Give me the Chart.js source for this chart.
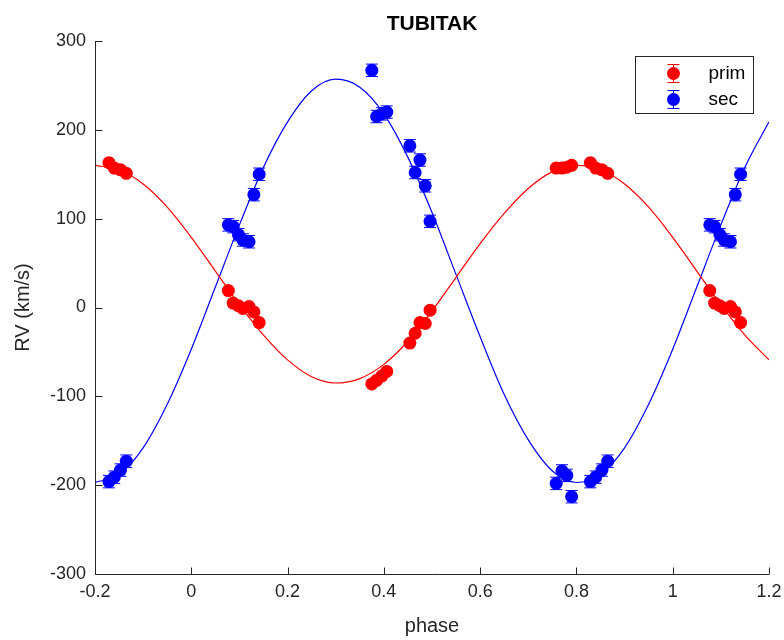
<!DOCTYPE html>
<html lang="en">
<head>
<meta charset="UTF-8">
<title>TUBITAK</title>
<script src="https://cdn.jsdelivr.net/npm/chart.js@4.4.0/dist/chart.umd.min.js"></script>
<style>
    body { margin: 0; background: #fff; }
    #wrap { width: 784px; height: 640px; }
</style>
</head>
<body>
<div id="wrap"><canvas id="rv" width="784" height="640"></canvas></div>
<script>
// measured points; the copies outside 0..1 are plotted as in the original
var obsPhase = [-0.171, -0.160, -0.147, -0.135,
    0.077, 0.087, 0.098, 0.107, 0.120, 0.130, 0.141,
    0.375, 0.385, 0.396, 0.406,
    0.454, 0.465, 0.475, 0.486, 0.496,
    0.758, 0.770, 0.780, 0.790,
    0.829, 0.840, 0.853, 0.865,
    1.077, 1.087, 1.098, 1.107, 1.120, 1.130, 1.141];
var primRV = [163, 157, 155, 151,
    19, 5, 2, -1, 1, -5, -17,
    -86, -82, -77, -72,
    -40, -29, -17, -18, -3,
    157, 157, 158, 160,
    163, 157, 155, 151,
    19, 5, 2, -1, 1, -5, -17];
var secRV = [-196, -191, -183, -173,
    93, 91, 82, 76, 74, 127, 150,
    267, 215, 218, 220,
    182, 152, 166, 137, 97,
    -198, -184, -189, -213,
    -196, -191, -183, -173,
    93, 91, 82, 76, 74, 127, 150];
var primErr = 2;
var secErr = 7;

// fitted orbit curves, every 0.05 in phase
var fitPhase = [-0.2, -0.15, -0.1, -0.05, 0, 0.05, 0.1, 0.15, 0.2, 0.25, 0.3, 0.35, 0.4, 0.45, 0.5,
    0.55, 0.6, 0.65, 0.7, 0.75, 0.8, 0.85, 0.9, 0.95, 1, 1.05, 1.1, 1.15, 1.2];
var primFit = [160, 155, 139, 113, 79, 41, 3, -31, -59, -78, -85, -80, -64, -38, -4,
    34, 72, 106, 134, 153, 160, 155, 139, 113, 79, 41, 3, -31, -59];
var secFit = [-197, -188, -158, -109, -47, 23, 93, 158, 209, 244, 257, 248, 218, 169, 107,
    37, -33, -98, -149, -184, -197, -188, -158, -109, -47, 23, 93, 158, 209];

var xTicks = [-0.2, 0, 0.2, 0.4, 0.6, 0.8, 1, 1.2];
var yTicks = [-300, -200, -100, 0, 100, 200, 300];

var axisColor = '#262626';
var font = 'Liberation Sans, Arial, Helvetica, sans-serif';

function pairs(xs, ys) {
    return xs.map(function (v, i) { return { x: v, y: ys[i] }; });
}

// vertical error bars with caps, drawn just before the markers
var errorBars = {
    id: 'errorBars',
    beforeDatasetDraw: function (chart, args) {
        var ds = chart.data.datasets[args.index];
        if (ds.err == null) return;
        var ctx = chart.ctx, y = chart.scales.y;
        ctx.save();
        ctx.strokeStyle = ds.backgroundColor;
        ctx.lineWidth = 1;
        args.meta.data.forEach(function (pt, i) {
            var v = ds.data[i].y;
            var t = y.getPixelForValue(v + ds.err), b = y.getPixelForValue(v - ds.err);
            ctx.beginPath();
            ctx.moveTo(pt.x, t); ctx.lineTo(pt.x, b);
            ctx.moveTo(pt.x - 6, t); ctx.lineTo(pt.x + 6, t);
            ctx.moveTo(pt.x - 6, b); ctx.lineTo(pt.x + 6, b);
            ctx.stroke();
        });
        ctx.restore();
    }
};

// matlab style axes: left and bottom lines, ticks pointing inwards
var axesBox = {
    id: 'axesBox',
    afterDatasetsDraw: function (chart) {
        var ctx = chart.ctx, a = chart.chartArea, x = chart.scales.x, y = chart.scales.y;
        var L = Math.round(a.left) + 0.5, B = Math.round(a.bottom) + 0.5;
        ctx.save();
        ctx.strokeStyle = axisColor;
        ctx.lineWidth = 1;
        ctx.beginPath();
        ctx.moveTo(L, a.top); ctx.lineTo(L, B); ctx.lineTo(a.right, B);
        x.ticks.forEach(function (t) {
            var px = Math.round(x.getPixelForValue(t.value)) + 0.5;
            ctx.moveTo(px, B); ctx.lineTo(px, B - 7);
        });
        y.ticks.forEach(function (t) {
            var py = Math.round(y.getPixelForValue(t.value)) + 0.5;
            ctx.moveTo(L, py); ctx.lineTo(L + 7, py);
        });
        ctx.stroke();
        ctx.restore();
    },
    afterDraw: function (chart) {
        var ctx = chart.ctx, a = chart.chartArea;
        ctx.save();
        // title over the middle of the plot area
        ctx.fillStyle = '#000';
        ctx.font = 'bold 21px ' + font;
        ctx.textAlign = 'center';
        ctx.textBaseline = 'alphabetic';
        ctx.fillText('TUBITAK', (a.left + a.right) / 2, 30);

        // legend box, top right inside the axes
        var w = 118, h = 57;
        var lx = Math.round(a.right - 16 - w) + 0.5, ly = Math.round(a.top + 15) + 0.5;
        ctx.fillStyle = '#fff';
        ctx.fillRect(lx, ly, w, h);
        ctx.strokeStyle = axisColor;
        ctx.lineWidth = 1;
        ctx.strokeRect(lx, ly, w, h);
        var items = chart.data.datasets.filter(function (d) { return d.err != null; });
        items.forEach(function (d, i) {
            var cx = lx + 38, cy = ly + 17 + i * 26;
            ctx.strokeStyle = d.backgroundColor;
            ctx.beginPath();
            ctx.moveTo(cx, cy - 9); ctx.lineTo(cx, cy + 9);
            ctx.moveTo(cx - 6, cy - 9); ctx.lineTo(cx + 6, cy - 9);
            ctx.moveTo(cx - 6, cy + 9); ctx.lineTo(cx + 6, cy + 9);
            ctx.stroke();
            ctx.fillStyle = d.backgroundColor;
            ctx.beginPath();
            ctx.arc(cx, cy, 6.5, 0, Math.PI * 2);
            ctx.fill();
            ctx.fillStyle = '#000';
            ctx.font = '19px ' + font;
            ctx.textAlign = 'left';
            ctx.textBaseline = 'middle';
            ctx.fillText(d.label, lx + 73, cy);
        });
        ctx.restore();
    }
};

var ctx = document.getElementById('rv').getContext('2d');
var chart = new Chart(ctx, {
    type: 'scatter',
    data: {
        datasets: [
            {
                label: 'prim', data: pairs(obsPhase, primRV), err: primErr,
                backgroundColor: '#ff0000', borderWidth: 0, pointRadius: 6.5, order: 1
            },
            {
                label: 'sec', data: pairs(obsPhase, secRV), err: secErr,
                backgroundColor: '#0000ff', borderWidth: 0, pointRadius: 6.5, order: 1
            },
            {
                type: 'line', label: 'prim fit', data: pairs(fitPhase, primFit),
                borderColor: '#ff0000', borderWidth: 1.2, pointRadius: 0,
                cubicInterpolationMode: 'monotone', fill: false, order: 2
            },
            {
                type: 'line', label: 'sec fit', data: pairs(fitPhase, secFit),
                borderColor: '#0000ff', borderWidth: 1.2, pointRadius: 0,
                cubicInterpolationMode: 'monotone', fill: false, order: 2
            }
        ]
    },
    options: {
        responsive: false,
        animation: false,
        devicePixelRatio: 1,
        layout: { padding: { top: 41, right: 0, bottom: 0, left: 0 } },
        plugins: {
            legend: { display: false },
            tooltip: { enabled: false },
            title: { display: false }
        },
        scales: {
            x: {
                type: 'linear', min: -0.2, max: 1.2,
                afterBuildTicks: function (s) { s.ticks = xTicks.map(function (v) { return { value: v }; }); },
                afterFit: function (s) { s.height = 66; s.paddingLeft = 0; s.paddingRight = 15; },
                grid: { display: false, drawTicks: false },
                border: { display: false },
                ticks: {
                    color: axisColor, padding: 7, maxRotation: 0,
                    font: { family: font, size: 18 },
                    callback: function (v) { return String(Math.round(v * 10) / 10); }
                },
                title: {
                    display: true, text: 'phase', color: axisColor,
                    font: { family: font, size: 20 }, padding: { top: 0, bottom: 2 }
                }
            },
            y: {
                type: 'linear', min: -300, max: 300,
                afterBuildTicks: function (s) { s.ticks = yTicks.map(function (v) { return { value: v }; }); },
                afterFit: function (s) { s.width = 95; },
                grid: { display: false, drawTicks: false },
                border: { display: false },
                ticks: {
                    color: axisColor, padding: 9,
                    font: { family: font, size: 18 },
                    callback: function (v) { return String(v); }
                },
                title: {
                    display: true, text: 'RV (km/s)', color: axisColor,
                    font: { family: font, size: 20 }, padding: { top: 11, bottom: 0 }
                }
            }
        }
    },
    plugins: [errorBars, axesBox]
});
</script>
</body>
</html>
